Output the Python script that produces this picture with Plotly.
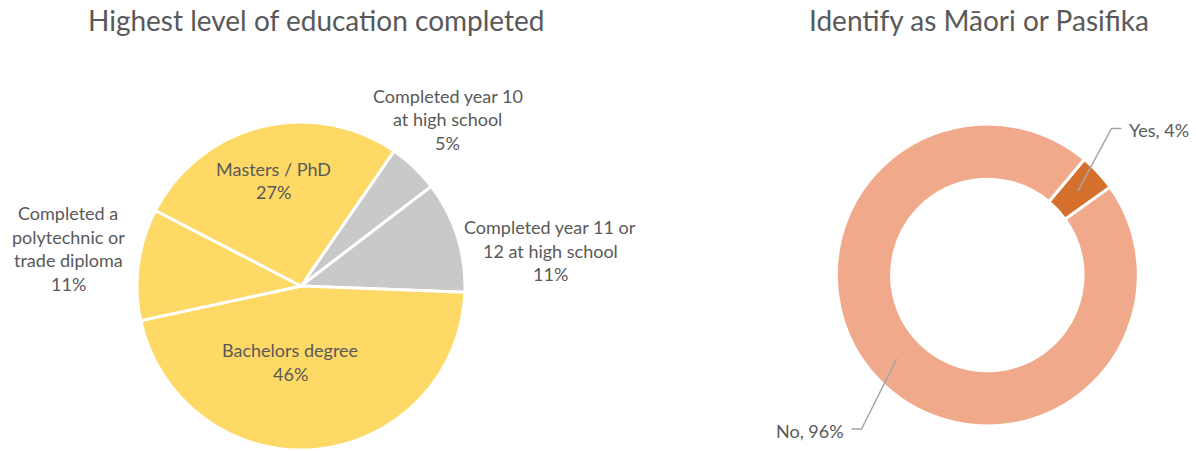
import math
import plotly.graph_objects as go

W, H = 1196, 451

# Highest level of education completed
edu_labels = [
    "Completed year 10 at high school",
    "Completed year 11 or 12 at high school",
    "Bachelors degree",
    "Completed a polytechnic or trade diploma",
    "Masters / PhD",
]
edu_lines = [
    ["Completed year 10", "at high school"],
    ["Completed year 11 or", "12 at high school"],
    ["Bachelors degree"],
    ["Completed a", "polytechnic or", "trade diploma"],
    ["Masters / PhD"],
]
edu_values = [5, 11, 46, 11, 27]
edu_colors = ["#C9C9C9", "#C9C9C9", "#FED966", "#FED966", "#FED966"]

# Identify as Maori or Pasifika
mp_labels = ["Yes", "No"]
mp_values = [4, 96]
mp_colors = ["#D4702B", "#F1A98B"]

TEXT = "#595959"
FONT = "Lato, Calibri, Carlito, sans-serif"
LABEL_SIZE = 18
TITLE_SIZE = 28


def px(x):
    return x / W


def py(y):
    return 1 - y / H


# pie geometry in pixels (centre, radius)
L_CX, L_CY, L_R = 301, 286, 164
R_CX, R_CY, R_R = 987.3, 275, 151
HOLE = 0.634

fig = go.Figure()

fig.add_trace(go.Pie(
    labels=edu_labels, values=edu_values, sort=False, direction="clockwise",
    rotation=34.6, textinfo="none", hoverinfo="label+percent",
    marker=dict(colors=edu_colors, line=dict(color="white", width=3)),
    domain=dict(x=[px(L_CX - L_R), px(L_CX + L_R)],
                y=[py(L_CY + L_R), py(L_CY - L_R)]),
    showlegend=False,
))

fig.add_trace(go.Pie(
    labels=mp_labels, values=mp_values, sort=False, direction="clockwise",
    rotation=40, hole=HOLE, textinfo="none", hoverinfo="label+percent",
    marker=dict(colors=mp_colors, line=dict(color="white", width=3)),
    domain=dict(x=[px(R_CX - R_R), px(R_CX + R_R)],
                y=[py(R_CY + R_R), py(R_CY - R_R)]),
    showlegend=False,
))

annotations = []

# block label positions for the education pie: (centre x, first line y)
edu_label_pos = [(448, 96), (550, 227), (290, 350), (68, 213), (273, 169)]
LINE_GAP = 23.5
total = sum(edu_values)
for lines, v, (cx, y0) in zip(edu_lines, edu_values, edu_label_pos):
    pct = f"{round(100 * v / total)}%"
    for i, t in enumerate(lines + [pct]):
        annotations.append(dict(
            x=px(cx), y=py(y0 + i * LINE_GAP), xref="paper", yref="paper",
            text=t, showarrow=False, xanchor="center", yanchor="middle",
            font=dict(family=FONT, size=LABEL_SIZE, color=TEXT),
        ))

# donut labels with leader lines anchored at each slice's mid-angle
shapes = []
mp_total = sum(mp_values)
ring_r = R_R * (1 + HOLE) / 2
start = 40.0
label_spec = {
    # text anchor, elbow point, side of the text the line meets
    "Yes": dict(tx=1127, ty=130, elbow=(1111.5, 128.5), side="left"),
    "No": dict(tx=846, ty=431, elbow=(861.5, 429), side="right"),
}
for lab, v in zip(mp_labels, mp_values):
    span = 360 * v / mp_total
    mid = math.radians(start + span / 2)
    start += span
    ax = R_CX + ring_r * math.sin(mid)
    ay = R_CY - ring_r * math.cos(mid)
    s = label_spec[lab]
    ex, ey = s["elbow"]
    hx = ex + 10 if s["side"] == "left" else ex - 10
    shapes.append(dict(
        type="path", xref="paper", yref="paper",
        path=f"M {px(ax)} {py(ay)} L {px(ex)} {py(ey)} L {px(hx)} {py(ey)}",
        line=dict(color="#A6A6A6", width=1.5),
    ))
    annotations.append(dict(
        x=px(s["tx"]), y=py(s["ty"]), xref="paper", yref="paper",
        text=f"{lab}, {round(100 * v / mp_total)}%", showarrow=False,
        xanchor=s["side"], yanchor="middle",
        font=dict(family=FONT, size=LABEL_SIZE, color=TEXT),
    ))

# chart titles
for title, cx in [("Highest level of education completed", 316),
                  ("Identify as Māori or Pasifika", 979)]:
    annotations.append(dict(
        x=px(cx), y=py(20), xref="paper", yref="paper", text=title,
        showarrow=False, xanchor="center", yanchor="middle",
        font=dict(family=FONT, size=TITLE_SIZE, color=TEXT),
    ))

fig.update_layout(
    width=W, height=H, margin=dict(l=0, r=0, t=0, b=0),
    paper_bgcolor="white", plot_bgcolor="white",
    annotations=annotations, shapes=shapes,
)

fig.write_html("out.html")
